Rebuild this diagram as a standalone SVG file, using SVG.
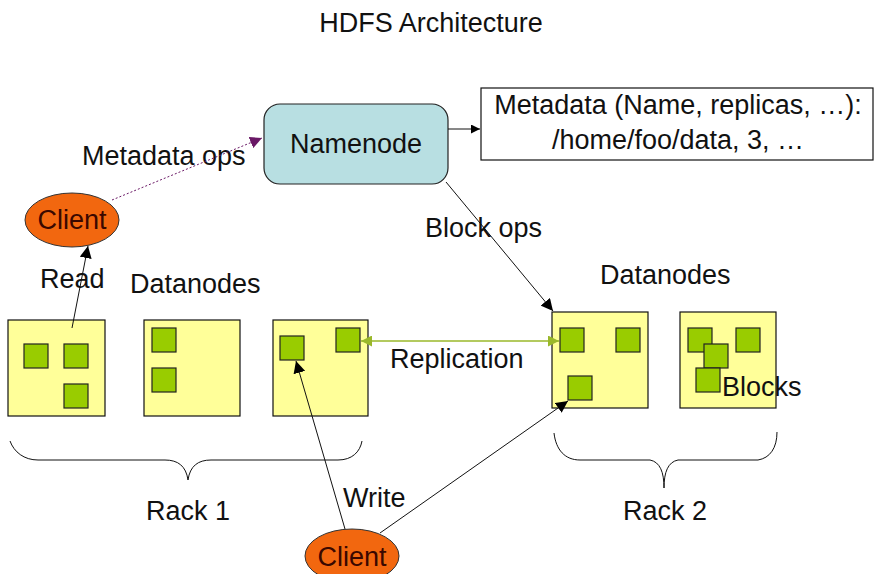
<svg xmlns="http://www.w3.org/2000/svg" width="874" height="574" viewBox="0 0 874 574">
<defs>
<style>
text{font-family:"Liberation Sans",Arial,sans-serif;font-size:27px;fill:#111}
.rack{fill:#ffff99;stroke:#111;stroke-width:1.2}
.blk{fill:#99cc00;stroke:#222;stroke-width:1.2}
.client{fill:#f2670f;stroke:#333;stroke-width:1}
.ctext{fill:#3a0800}
.ln{fill:none;stroke:#111;stroke-width:1}
</style>
<marker id="ab" viewBox="0 0 10 10" refX="10" refY="5" markerWidth="9" markerHeight="9" markerUnits="userSpaceOnUse" orient="auto"><path d="M0,0L10,5L0,10z" fill="#000"/></marker>
<marker id="ab2" viewBox="0 0 10 10" refX="10" refY="5" markerWidth="12" markerHeight="12" markerUnits="userSpaceOnUse" orient="auto"><path d="M0,0L10,5L0,10z" fill="#000"/></marker>
<marker id="ap" viewBox="0 0 10 10" refX="10" refY="5" markerWidth="12" markerHeight="12" markerUnits="userSpaceOnUse" orient="auto"><path d="M0,0L10,5L0,10z" fill="#6a1866"/></marker>
<marker id="ag" viewBox="0 0 10 10" refX="10" refY="5" markerWidth="11" markerHeight="11" markerUnits="userSpaceOnUse" orient="auto-start-reverse"><path d="M0,0L10,5L0,10z" fill="#9ab82a"/></marker>
</defs>
<rect width="874" height="574" fill="#fff"/>
<text x="431" y="32" text-anchor="middle">HDFS Architecture</text>

<g id="labels">
<text x="82" y="165">Metadata ops</text>
<text x="425" y="237">Block ops</text>
<text x="40" y="288">Read</text>
<text x="130" y="293">Datanodes</text>
<text x="600" y="284">Datanodes</text>
<text x="390" y="368">Replication</text>
<text x="343" y="507">Write</text>
<text x="146" y="520">Rack 1</text>
<text x="623" y="520">Rack 2</text>
</g>

<g id="namenode">
<rect x="264" y="104" width="184" height="80" rx="16" fill="#b8dfe2" stroke="#222" stroke-width="1.2"/>
<text x="356" y="153" text-anchor="middle">Namenode</text>
</g>

<g id="metadata">
<rect x="481" y="88" width="392" height="72" fill="#fff" stroke="#111" stroke-width="1.2"/>
<text x="678" y="114" text-anchor="middle">Metadata (Name, replicas, …):</text>
<text x="678" y="149" text-anchor="middle">/home/foo/data, 3, …</text>
</g>

<g id="client-top">
<ellipse cx="72" cy="220" rx="47" ry="27" class="client"/>
<text x="72" y="229" text-anchor="middle" class="ctext">Client</text>
</g>

<g id="client-bottom">
<ellipse cx="352" cy="556" rx="47" ry="27" class="client"/>
<text x="352" y="566" text-anchor="middle" class="ctext">Client</text>
</g>

<g id="dn1">
<rect x="8" y="320" width="97" height="96" class="rack"/>
<rect x="24" y="344" width="24" height="24" class="blk"/>
<rect x="64" y="344" width="24" height="24" class="blk"/>
<rect x="64" y="384" width="24" height="24" class="blk"/>
</g>
<g id="dn2">
<rect x="144" y="320" width="96" height="96" class="rack"/>
<rect x="152" y="328" width="24" height="24" class="blk"/>
<rect x="152" y="368" width="24" height="24" class="blk"/>
</g>
<g id="dn3">
<rect x="273" y="320" width="95" height="96" class="rack"/>
<rect x="280" y="336" width="24" height="24" class="blk"/>
<rect x="336" y="328" width="24" height="24" class="blk"/>
</g>
<g id="dn4">
<rect x="552" y="312" width="96" height="96" class="rack"/>
<rect x="560" y="328" width="24" height="24" class="blk"/>
<rect x="616" y="328" width="24" height="24" class="blk"/>
<rect x="568" y="376" width="24" height="24" class="blk"/>
</g>
<g id="dn5">
<rect x="680" y="312" width="96" height="96" class="rack"/>
<rect x="688" y="328" width="24" height="24" class="blk"/>
<rect x="736" y="328" width="24" height="24" class="blk"/>
<rect x="704" y="344" width="24" height="24" class="blk"/>
<rect x="696" y="368" width="24" height="24" class="blk"/>
<text x="722" y="396">Blocks</text>
</g>

<g id="braces">
<path class="ln" d="M10,441 C14,452 24,460 38,460 L165,460 C178,460 186,466 188,480 C190,466 198,460 211,460 L338,460 C352,460 360,452 362,441"/>
<path class="ln" d="M554,433 C556,450 565,460 580,460 L650,460 C660,462 664,472 664,488 C664,472 668,462 678,460 L758,460 C770,458 777,448 777,432"/>
</g>

<g id="connectors">
<line x1="112" y1="200" x2="262" y2="138" stroke="#6a1866" stroke-width="1" stroke-dasharray="2,2" marker-end="url(#ap)"/>
<line x1="448" y1="129" x2="480" y2="129" class="ln" marker-end="url(#ab)"/>
<line x1="446" y1="182" x2="553" y2="311" class="ln" marker-end="url(#ab2)"/>
<line x1="72" y1="328" x2="88" y2="246" class="ln" marker-end="url(#ab2)"/>
<line x1="361" y1="341" x2="559" y2="341" stroke="#9ab82a" stroke-width="1.5" marker-start="url(#ag)" marker-end="url(#ag)"/>
<line x1="345" y1="529" x2="296" y2="361" class="ln" marker-end="url(#ab2)"/>
<line x1="380" y1="533" x2="568" y2="401" class="ln" marker-end="url(#ab2)"/>
</g>
</svg>
